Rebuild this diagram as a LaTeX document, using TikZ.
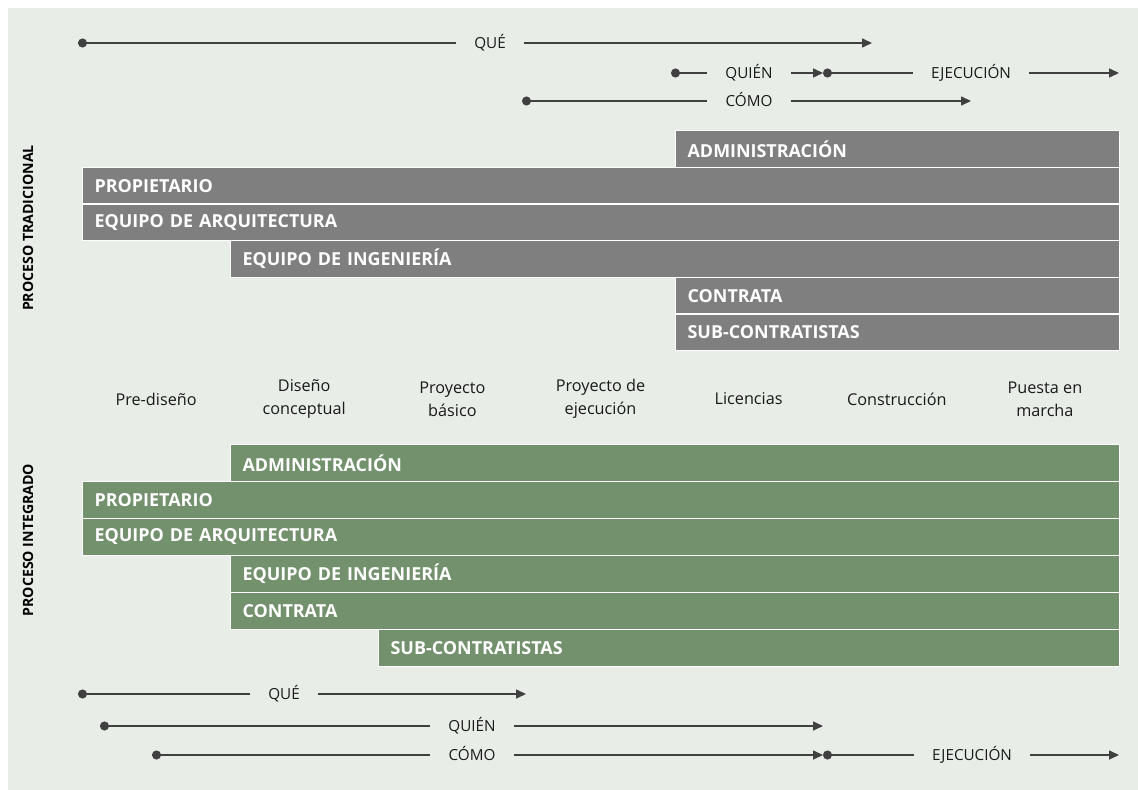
\documentclass[tikz,border=0pt]{standalone}
\usepackage{fontspec}
\setmainfont{Open Sans}
\usetikzlibrary{arrows.meta}

\definecolor{bgc}{HTML}{E8EDE8}
\definecolor{bargray}{HTML}{7F7F7F}
\definecolor{bargreen}{HTML}{72916C}
\definecolor{ink}{HTML}{404040}
\definecolor{txt}{HTML}{1A1A1A}

\tikzset{
  bar/.style={anchor=north west, draw=white, line width=1.2bp,
    minimum height=36.7bp, inner xsep=12bp, inner ysep=0pt, align=left,
    text=white, font=\bfseries\fontsize{18}{21}\selectfont},
  graybar/.style={bar, fill=bargray},
  greenbar/.style={bar, fill=bargreen},
  w82/.style={text width=1013bp},
  w230/.style={text width=865bp},
  w378/.style={text width=717bp},
  w675/.style={text width=420bp},
  phase/.style={align=center, text=txt, font=\fontsize{16.3}{23}\selectfont},
  side/.style={rotate=90, text=black, font=\bfseries\fontsize{14.2}{17}\selectfont},
  lbl/.style={text=txt, font=\fontsize{15.3}{18}\selectfont, inner xsep=18bp,
    inner ysep=0pt, text height=11bp, text depth=0pt},
  flow/.style={draw=ink, line width=1.6bp},
  from dot/.style={flow, {Circle[length=9bp]}-},
  to tip/.style={flow, -{Triangle[length=10bp,width=9bp]}},
}

\begin{document}
\begin{tikzpicture}[x=1bp, y=-1bp]
  \useasboundingbox (0,0) rectangle (1138,790);
  \fill[bgc] (8,8) rectangle (1138,790);

  % side titles
  \node[side] (sideT) at (28,228) {PROCESO TRADICIONAL};
  \node[side] (sideI) at (28,540) {PROCESO INTEGRADO};

  % traditional process: participants
  \node[graybar, w675] (tadm)  at (675,130)   {ADMINISTRACIÓN};
  \node[graybar, w82]  (tprop) at (82,166.7)  {PROPIETARIO};
  \node[graybar, w82]  (tarq)  at (82,203.3)  {EQUIPO DE ARQUITECTURA};
  \node[graybar, w230] (ting)  at (230,240)   {EQUIPO DE INGENIERÍA};
  \node[graybar, w675] (tcon)  at (675,276.7) {CONTRATA};
  \node[graybar, w675] (tsub)  at (675,313.3) {SUB-CONTRATISTAS};

  % integrated process: participants
  \node[greenbar, w230] (iadm)  at (230,444) {ADMINISTRACIÓN};
  \node[greenbar, w82]  (iprop) at (82,481)  {PROPIETARIO};
  \node[greenbar, w82]  (iarq)  at (82,518)  {EQUIPO DE ARQUITECTURA};
  \node[greenbar, w230] (iing)  at (230,555) {EQUIPO DE INGENIERÍA};
  \node[greenbar, w230] (icon)  at (230,592) {CONTRATA};
  \node[greenbar, w378] (isub)  at (378,629) {SUB-CONTRATISTAS};

  % project phases
  \node[phase] (ph1) at (156.1,399) {Pre-diseño};
  \node[phase] (ph2) at (304.2,399) {Diseño\\conceptual};
  \node[phase] (ph3) at (452.4,399) {Proyecto\\básico};
  \node[phase] (ph4) at (600.5,399) {Proyecto de\\ejecución};
  \node[phase] (ph5) at (748.6,399) {Licencias};
  \node[phase] (ph6) at (896.8,399) {Construcción};
  \node[phase] (ph7) at (1044.9,399) {Puesta en\\marcha};

  % traditional: what / who / how / execution
  \coordinate (tqueS) at (78,43);
  \node[lbl] (tqueL) at (490,43) {QUÉ};
  \coordinate (tqueE) at (872,43);
  \draw[from dot] (tqueS) -- (tqueL);
  \draw[to tip] (tqueL) -- (tqueE);

  \coordinate (tquiS) at (671,73);
  \node[lbl] (tquiL) at (749,73) {QUIÉN};
  \coordinate (tquiE) at (823,73);
  \draw[from dot] (tquiS) -- (tquiL);
  \draw[to tip] (tquiL) -- (tquiE);

  \node[lbl] (tejeL) at (971,73) {EJECUCIÓN};
  \coordinate (tejeE) at (1119,73);
  \draw[from dot] (tquiE) -- (tejeL);
  \draw[to tip] (tejeL) -- (tejeE);

  \coordinate (tcomS) at (522,101);
  \node[lbl] (tcomL) at (749,101) {CÓMO};
  \coordinate (tcomE) at (971,101);
  \draw[from dot] (tcomS) -- (tcomL);
  \draw[to tip] (tcomL) -- (tcomE);

  % integrated: what / who / how / execution
  \coordinate (iqueS) at (78,694);
  \node[lbl] (iqueL) at (284,694) {QUÉ};
  \coordinate (iqueE) at (526,694);
  \draw[from dot] (iqueS) -- (iqueL);
  \draw[to tip] (iqueL) -- (iqueE);

  \coordinate (iquiS) at (100,726);
  \node[lbl] (iquiL) at (472,726) {QUIÉN};
  \coordinate (iquiE) at (823,726);
  \draw[from dot] (iquiS) -- (iquiL);
  \draw[to tip] (iquiL) -- (iquiE);

  \coordinate (icomS) at (152,755);
  \node[lbl] (icomL) at (472,755) {CÓMO};
  \coordinate (icomE) at (823,755);
  \draw[from dot] (icomS) -- (icomL);
  \draw[to tip] (icomL) -- (icomE);

  \node[lbl] (iejeL) at (972,755) {EJECUCIÓN};
  \coordinate (iejeE) at (1119,755);
  \draw[from dot] (icomE) -- (iejeL);
  \draw[to tip] (iejeL) -- (iejeE);
\end{tikzpicture}
\end{document}
